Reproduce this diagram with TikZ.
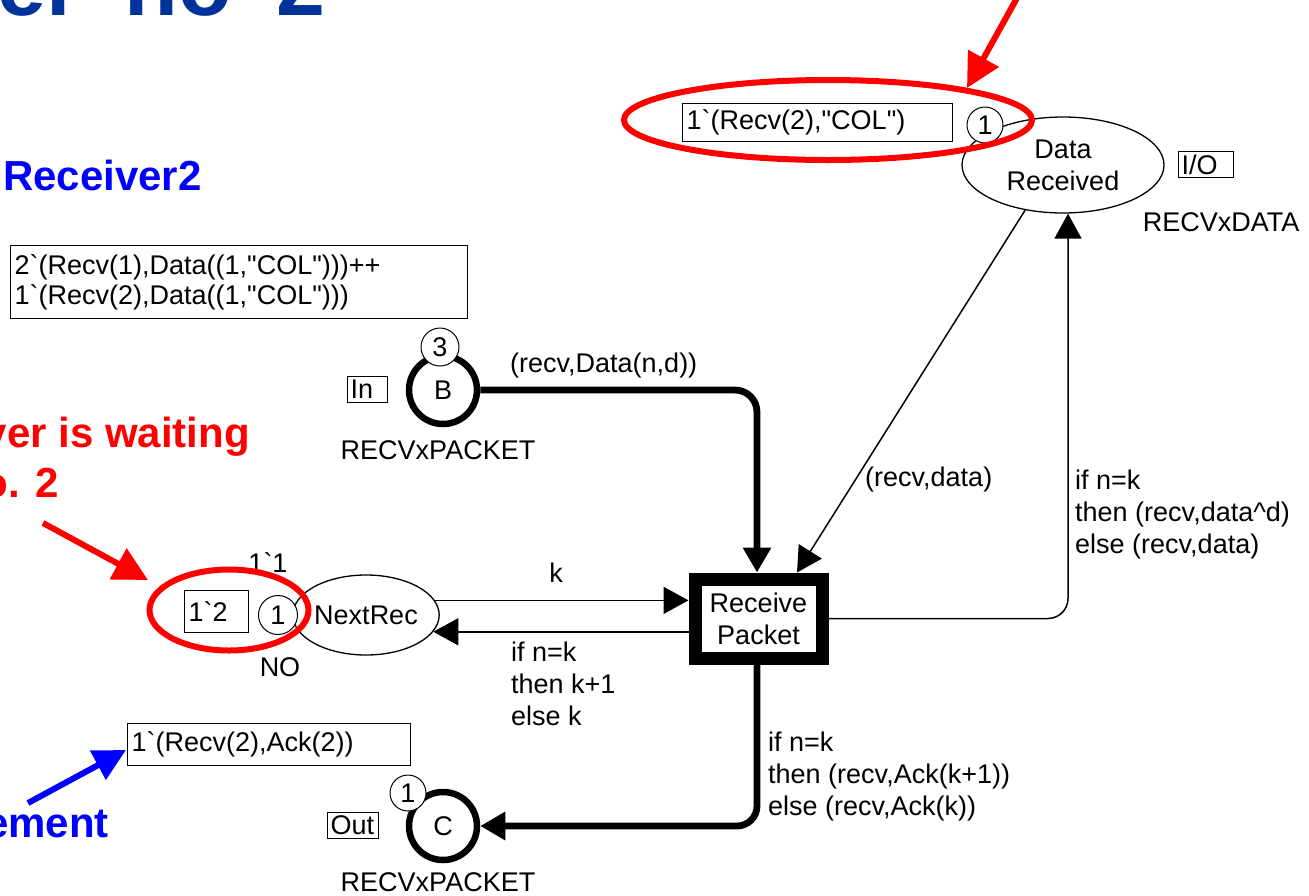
\documentclass[tikz,border=0pt]{standalone}
\usepackage{fontspec}
\setmainfont{Liberation Sans}[Ligatures=TeXOff]
\usetikzlibrary{arrows.meta,shapes.geometric}
\definecolor{titleblue}{RGB}{0,51,153}
\definecolor{annblue}{RGB}{0,0,255}
\definecolor{annred}{RGB}{255,0,0}
\begin{document}
\begin{tikzpicture}[x=1pt,y=-1pt,
  txt/.style={font=\fontsize{27}{32}\selectfont, inner sep=0pt, align=left},
  place/.style={ellipse, draw, line width=1.3pt, txt, align=center},
  ioplace/.style={circle, draw, line width=6.5pt, minimum size=68pt, txt, align=center},
  token/.style={circle, draw, fill=white, line width=1pt, minimum size=36pt, txt, align=center},
  markbox/.style={draw, line width=1.3pt, txt, inner xsep=4pt, anchor=north west},
  portbox/.style={draw, line width=1pt, txt, inner xsep=3pt, minimum height=26pt, anchor=north west},
  trans/.style={draw, line width=13pt, minimum width=127pt, minimum height=79pt, txt, align=center},
  arc/.style={line width=1.5pt, -{Triangle[length=25pt,width=27pt]}},
  thickarc/.style={arc, line width=6.8pt},
  anntext/.style={font=\fontsize{42}{50}\selectfont\bfseries, inner sep=0pt},
  redring/.style={ellipse, draw=annred, line width=6pt, inner sep=0pt},
  redarrow/.style={draw=annred, line width=6pt, -{Triangle[length=34pt,width=34pt]}},
  bluearrow/.style={draw=annblue, line width=6pt, -{Triangle[length=32pt,width=32pt]}}
]
\useasboundingbox (0,0) rectangle (1309,895);
\clip (0,0) rectangle (1309,895);

% title and annotations
\node[font=\fontsize{88}{88}\selectfont\bfseries, text=titleblue, anchor=base west, inner sep=0pt] (title) at (-3,15) {er\hspace{44pt}no\hspace{45pt}2};
\node[anntext, text=annblue, anchor=base west] (recv2) at (3,190) {Receiver2};
\node[anntext, text=annred, anchor=base east] (wait1) at (250,447) {ver is waiting};
\node[anntext, text=annred, anchor=base east] (wait2) at (59,497) {o. 2};
\node[anntext, text=annblue, anchor=base east] (ement) at (109,837) {ement};

% places
\node[place, minimum width=202pt, minimum height=96pt] (DR) at (1063,165) {Data\\Received};
\node[place, minimum width=146pt, minimum height=80pt] (NR) at (366,615) {NextRec};
\node[ioplace] (B) at (443,390) {B};
\node[ioplace] (C) at (443,826) {C};

% transition
\node[trans] (RP) at (758.5,618.5) {Receive\\Packet};

% tokens
\node[token] (tDR) at (985,125) {1};
\node[token, minimum size=39pt] (tNR) at (278,615) {1};
\node[token, minimum size=38pt] (tB) at (440,347) {3};
\node[token] (tC) at (408,793) {1};

% markings
\node[markbox, text width=262pt, minimum height=38pt] (mDR) at (682,103) {1`(Recv(2),"COL")};
\node[markbox, text width=449pt, minimum height=73pt, font=\fontsize{27}{30}\selectfont] (mB) at (10,245) {2`(Recv(1),Data((1,"COL")))++\\1`(Recv(2),Data((1,"COL")))};
\node[markbox, text width=56pt, minimum height=42pt] (mNR) at (184,590) {1`2};
\node[markbox, text width=275pt, minimum height=42pt] (mC) at (127,723) {1`(Recv(2),Ack(2))};

% port boxes
\node[portbox, text width=34pt] (pB) at (347,376) {In};
\node[portbox, text width=45pt] (pC) at (327,812) {Out};
\node[portbox, text width=49pt] (pDR) at (1178,151) {I/O};

% colour sets and initial marking
\node[txt] (csB) at (438,450) {RECVxPACKET};
\node[txt] (csC) at (438,882) {RECVxPACKET};
\node[txt] (csDR) at (1221,222) {RECVxDATA};
\node[txt] (csNR) at (280,667) {NO};
\node[txt] (imNR) at (268,563) {1`1};

% arcs
\draw[thickarc, rounded corners=22pt] (B.east) -| ([xshift=-1.5pt]RP.north);
\draw[arc] (DR.230) -- ([xshift=38.5pt]RP.north);
\draw[arc, rounded corners=20pt] (RP.east) -| ([xshift=5pt]DR.south);
\draw[arc] (NR.12) -- (NR.12 -| RP.west);
\draw[arc] (NR.-14 -| RP.west) -- (NR.-14);
\draw[thickarc, rounded corners=20pt] ([xshift=-1.5pt]RP.south) |- (C.east);

% arc inscriptions
\node[txt, anchor=west] (lB) at (510,366) {(recv,Data(n,d))};
\node[txt, anchor=west] (lDR) at (865,480) {(recv,data)};
\node[txt, anchor=north west] (lRD) at (1075,470) {if n=k\\then (recv,data\textasciicircum d)\\else (recv,data)};
\node[txt] (lk) at (556,573) {k};
\node[txt, anchor=north west] (lkb) at (511,642) {if n=k\\then k+1\\else k};
\node[txt, anchor=north west] (lC) at (768,732) {if n=k\\then (recv,Ack(k+1))\\else (recv,Ack(k))};

% red rings and arrows
\node[redring, minimum width=408pt, minimum height=80pt] (ring1) at (828,120) {};
\node[redring, minimum width=159pt, minimum height=81pt] (ring2) at (229,610) {};
\coordinate (a1s) at (1017,-2);
\coordinate (a1e) at (967,88);
\draw[redarrow] (a1s) -- (a1e);
\coordinate (a2s) at (43,523);
\coordinate (a2e) at (148,580);
\draw[redarrow] (a2s) -- (a2e);
\coordinate (a3s) at (28,803);
\coordinate (a3e) at (126,750);
\draw[bluearrow] (a3s) -- (a3e);
\end{tikzpicture}
\end{document}
